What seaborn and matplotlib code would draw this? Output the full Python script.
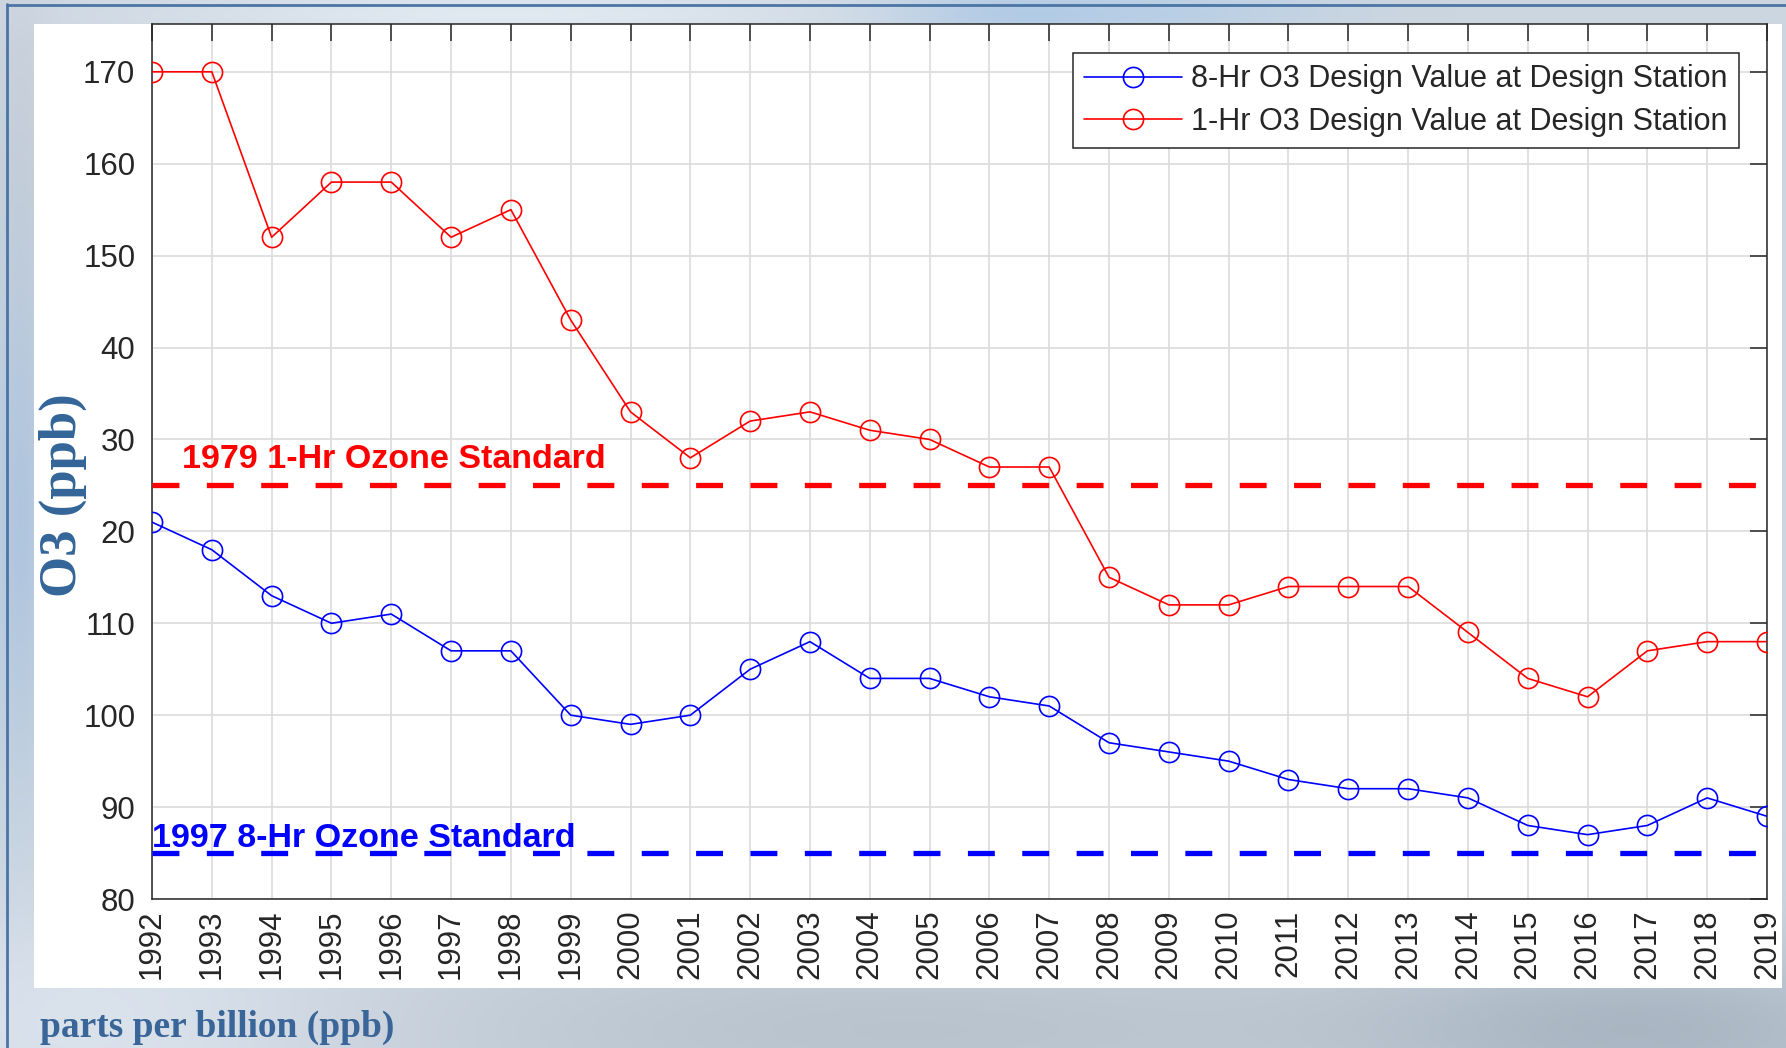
import numpy as np
import pandas as pd
import matplotlib
matplotlib.use("Agg")
import matplotlib.pyplot as plt
import seaborn as sns
from matplotlib.patches import Rectangle
from matplotlib.lines import Line2D

# ---------------- data ----------------
years = list(range(1992, 2020))
one_hr_values = [170, 170, 152, 158, 158, 152, 155, 143, 133, 128, 132, 133, 131, 130,
                 127, 127, 115, 112, 112, 114, 114, 114, 109, 104, 102, 107, 108, 108]
eight_hr_values = [121, 118, 113, 110, 111, 107, 107, 100, 99, 100, 105, 108, 104, 104,
                   102, 101, 97, 96, 95, 93, 92, 92, 91, 88, 87, 88, 91, 89]
series_names = ["8-Hr O3 Design Value at Design Station",
                "1-Hr O3 Design Value at Design Station"]
standard_1hr = 125
standard_8hr = 85
standard_1hr_label = "1979 1-Hr Ozone Standard"
standard_8hr_label = "1997 8-Hr Ozone Standard"
ytick_values = [80, 90, 100, 110, 120, 130, 140, 150, 160, 170]
ytick_labels = ["80", "90", "100", "110", "20", "30", "40", "150", "160", "170"]
ylabel_text = "O3 (ppb)"
footer_text = "parts per billion (ppb)"

df = pd.DataFrame({
    "year": years * 2,
    "value": eight_hr_values + one_hr_values,
    "series": [series_names[0]] * len(years) + [series_names[1]] * len(years),
})

# ---------------- figure ----------------
sns.set_style("white")
plt.rcParams["font.family"] = ["Liberation Sans", "DejaVu Sans"]

W, H = 1786, 1048
fig = plt.figure(figsize=(W / 100, H / 100), dpi=100)

# background (cloudy sky look)
yy, xx = np.mgrid[0:H, 0:W].astype(float)
base = np.array([0.80, 0.84, 0.88])
img = np.ones((H, W, 3)) * base


def blob(cx, cy, sx, sy, col, strength):
    g = np.exp(-(((xx - cx) / sx) ** 2 + ((yy - cy) / sy) ** 2))[..., None]
    return g * strength * (np.array(col) - base)


img += blob(100, 1020, 260, 120, [0.86, 0.89, 0.93], 1.0)
img += blob(900, 1030, 500, 90, [0.72, 0.76, 0.80], 0.9)
img += blob(1650, 1030, 300, 90, [0.66, 0.71, 0.76], 0.9)
img += blob(20, 520, 30, 260, [0.68, 0.77, 0.87], 0.9)
img += blob(20, 150, 30, 200, [0.78, 0.81, 0.85], 0.8)
img += blob(1000, 14, 120, 25, [0.70, 0.79, 0.89], 0.9)
img += blob(1180, 14, 150, 25, [0.72, 0.81, 0.90], 0.8)
img += blob(500, 14, 350, 25, [0.90, 0.93, 0.96], 0.8)
img = np.clip(img, 0, 1)
fig.figimage(img, xo=0, yo=0, origin="upper", zorder=-3)

# frame lines
fig.add_artist(Line2D([7 / W, 7 / W], [0, 1 - 4 / H], transform=fig.transFigure,
                      color="#4a75a4", lw=2.0, zorder=-1))
fig.add_artist(Line2D([7 / W, 1], [1 - 5 / H, 1 - 5 / H], transform=fig.transFigure,
                      color="#4a75a4", lw=2.0, zorder=-1))

# white panel
fig.add_artist(Rectangle((34 / W, 1 - 988 / H), (1782 - 34) / W, (988 - 24) / H,
                         transform=fig.transFigure, facecolor="white",
                         edgecolor="none", zorder=-1))

ax = fig.add_axes([152 / W, 1 - 899 / H, (1767 - 152) / W, (899 - 24) / H])
ax.set_facecolor("white")

palette = {series_names[0]: "#0000ff", series_names[1]: "#ff0000"}
for name in series_names:
    sub = df[df["series"] == name]
    sns.lineplot(data=sub, x="year", y="value", ax=ax, color=palette[name],
                 marker="o", markersize=14.5, markerfacecolor="none",
                 markeredgecolor=palette[name], markeredgewidth=1.2,
                 linewidth=1.2, label=name, legend=False, zorder=4)

ax.axhline(standard_1hr, color="#ff0000", lw=3.8, dashes=(5.1, 5.2), zorder=3)
ax.axhline(standard_8hr, color="#0000ff", lw=3.8, dashes=(5.1, 5.2), zorder=3)

ax.text(1992.5, 126.9, standard_1hr_label, color="#ff0000", fontsize=24.5,
        fontweight="bold", ha="left", va="baseline", zorder=5)
ax.text(1992.0, 85.7, standard_8hr_label, color="#0000ff", fontsize=24.5,
        fontweight="bold", ha="left", va="baseline", zorder=5)

ax.set_xlim(1992, 2019)
ax.set_ylim(80, 175.2)
ax.set_xticks(years)
ax.set_xticklabels([str(y) for y in years], rotation=90)
ax.set_yticks(ytick_values)
ax.set_yticklabels(ytick_labels)
ax.set_xlabel("")
ax.set_ylabel("")

ax.grid(True, color="#dcdcdc", lw=1.2, zorder=0)
ax.set_axisbelow(True)
ax.tick_params(axis="both", direction="in", length=12, width=1.1, color="#262626",
               labelcolor="#262626", labelsize=22.5, top=True, right=True)
ax.tick_params(axis="y", pad=12)
ax.tick_params(axis="x", pad=7.5)
for s in ax.spines.values():
    s.set_visible(True)
    s.set_color("#262626")
    s.set_linewidth(1.1)

leg = ax.legend(loc="upper right", bbox_to_anchor=(1739 / W, 1 - 53 / H),
                bbox_transform=fig.transFigure, borderaxespad=0, fontsize=22,
                frameon=True, fancybox=False, edgecolor="#262626", framealpha=1,
                handlelength=3.2, handletextpad=0.3, labelspacing=0.4,
                borderpad=0.37, markerscale=1.0)
leg.get_frame().set_linewidth(1.1)

fig.text(63 / W, 1 - 495 / H, ylabel_text, rotation=90, ha="center", va="center",
         fontsize=38, fontweight="bold", color="#336598",
         family=["Liberation Serif", "DejaVu Serif"])
fig.text(40 / W, 1 - 1027 / H, footer_text, ha="left", va="center",
         fontsize=27, fontweight="bold", color="#3a6598",
         family=["Liberation Serif", "DejaVu Serif"])

fig.savefig("out.png", dpi=100)
